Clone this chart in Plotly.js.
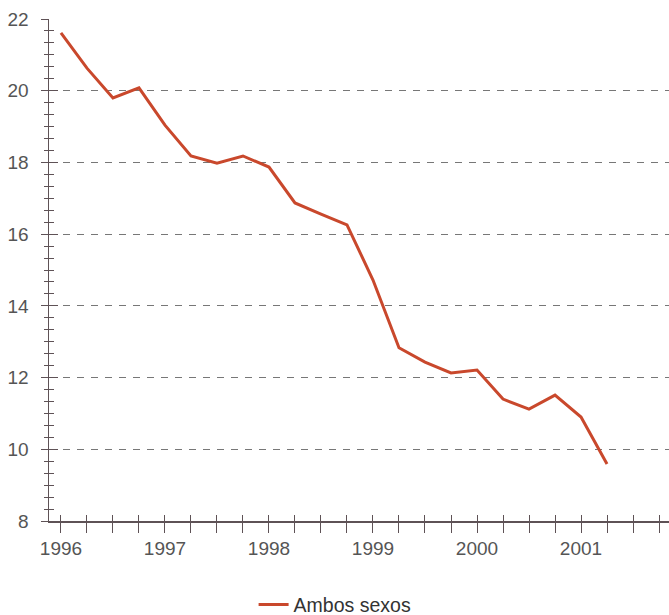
<!DOCTYPE html>
<html>
<head>
<meta charset="utf-8">
<script src="https://cdn.plot.ly/plotly-3.0.1.min.js"></script>
<style>html,body{margin:0;padding:0;background:#fff}#chart{width:669px;height:615px}</style>
</head>
<body>
<div id="chart"></div>
<script>
// Quarterly observations (decimal year)
const quarters = [1996, 1996.25, 1996.5, 1996.75, 1997, 1997.25, 1997.5, 1997.75,
                  1998, 1998.25, 1998.5, 1998.75, 1999, 1999.25, 1999.5, 1999.75,
                  2000, 2000.25, 2000.5, 2000.75, 2001, 2001.25];
const ambosSexos = [21.61, 20.63, 19.80, 20.08, 19.04, 18.18, 17.98, 18.18,
                    17.87, 16.87, 16.56, 16.26, 14.72, 12.83, 12.43, 12.13,
                    12.21, 11.40, 11.12, 11.51, 10.90, 9.59];
const seriesName = 'Ambos sexos';
const yearTicks = [1996, 1997, 1998, 1999, 2000, 2001];
const yearLabels = ['1996', '1997', '1998', '1999', '2000', '2001'];
const yTicks = [8, 10, 12, 14, 16, 18, 20, 22];
const yGrid = [10, 12, 14, 16, 18, 20];

const axisColor = '#5e5256';
const textColor = '#555';
const lineColor = '#c9482c';
const xRange = [1995.885, 2001.846];
const yRange = [8, 22];

const traces = [
  {x: quarters, y: ambosSexos, name: seriesName, type: 'scatter', mode: 'lines',
   line: {color: lineColor, width: 3}},
  // empty helper traces so the overlay axes (inside ticks, dashed grid) get drawn
  {x: [null], y: [null], xaxis: 'x2', yaxis: 'y2', type: 'scatter', mode: 'lines',
   showlegend: false, hoverinfo: 'skip'},
  {x: [null], y: [null], xaxis: 'x', yaxis: 'y3', type: 'scatter', mode: 'lines',
   showlegend: false, hoverinfo: 'skip'}
];

const layout = {
  width: 669, height: 615,
  margin: {l: 49, r: 0, t: 19, b: 94, autoexpand: false},
  paper_bgcolor: '#fff', plot_bgcolor: '#fff',
  font: {family: '"Liberation Sans", Arial, sans-serif', size: 19, color: textColor},
  showlegend: true,
  legend: {orientation: 'h', x: 0.33, xanchor: 'left', y: -0.167, yanchor: 'middle',
           font: {size: 19.5, color: '#333'}, bgcolor: 'rgba(0,0,0,0)'},
  xaxis: {
    range: xRange, tickmode: 'array', tickvals: yearTicks, ticktext: yearLabels,
    ticks: 'outside', ticklen: 10, tickwidth: 1, tickcolor: axisColor,
    minor: {tick0: 1996, dtick: 0.25, ticks: 'outside', ticklen: 10, tickwidth: 1, tickcolor: axisColor, showgrid: false},
    showline: true, linecolor: axisColor, linewidth: 1.5,
    showgrid: false, zeroline: false, fixedrange: true
  },
  xaxis2: {
    overlaying: 'x', anchor: 'y', side: 'bottom', range: xRange,
    tickmode: 'linear', tick0: 1996, dtick: 0.25,
    ticks: 'inside', ticklen: 6, tickwidth: 1, tickcolor: axisColor,
    showticklabels: false, showline: false, showgrid: false, zeroline: false
  },
  yaxis: {
    range: yRange, tickmode: 'array', tickvals: yTicks,
    ticks: 'outside', ticklen: 7, tickwidth: 1, tickcolor: axisColor,
    ticklabelstandoff: 8,
    minor: {tick0: 8, dtick: 1/3, ticks: 'outside', ticklen: 4, tickwidth: 1, tickcolor: axisColor, showgrid: false},
    showline: true, linecolor: axisColor, linewidth: 1.5,
    showgrid: false, zeroline: false, fixedrange: true
  },
  yaxis2: {
    overlaying: 'y', anchor: 'x', side: 'left', range: yRange,
    tickmode: 'array', tickvals: yGrid, ticks: '', showticklabels: false,
    showgrid: true, gridcolor: '#777', gridwidth: 1, griddash: '7px,7px',
    showline: false, zeroline: false
  },
  yaxis3: {
    overlaying: 'y', anchor: 'x', side: 'left', range: yRange,
    tickmode: 'array', tickvals: yTicks, ticks: 'inside', ticklen: 9, tickwidth: 1, tickcolor: axisColor,
    minor: {tick0: 8, dtick: 1/3, ticks: 'inside', ticklen: 5, tickwidth: 1, tickcolor: axisColor, showgrid: false},
    showticklabels: false, showgrid: false, showline: false, zeroline: false
  }
};

Plotly.newPlot('chart', traces, layout, {displayModeBar: false, staticPlot: true});
</script>
</body>
</html>
